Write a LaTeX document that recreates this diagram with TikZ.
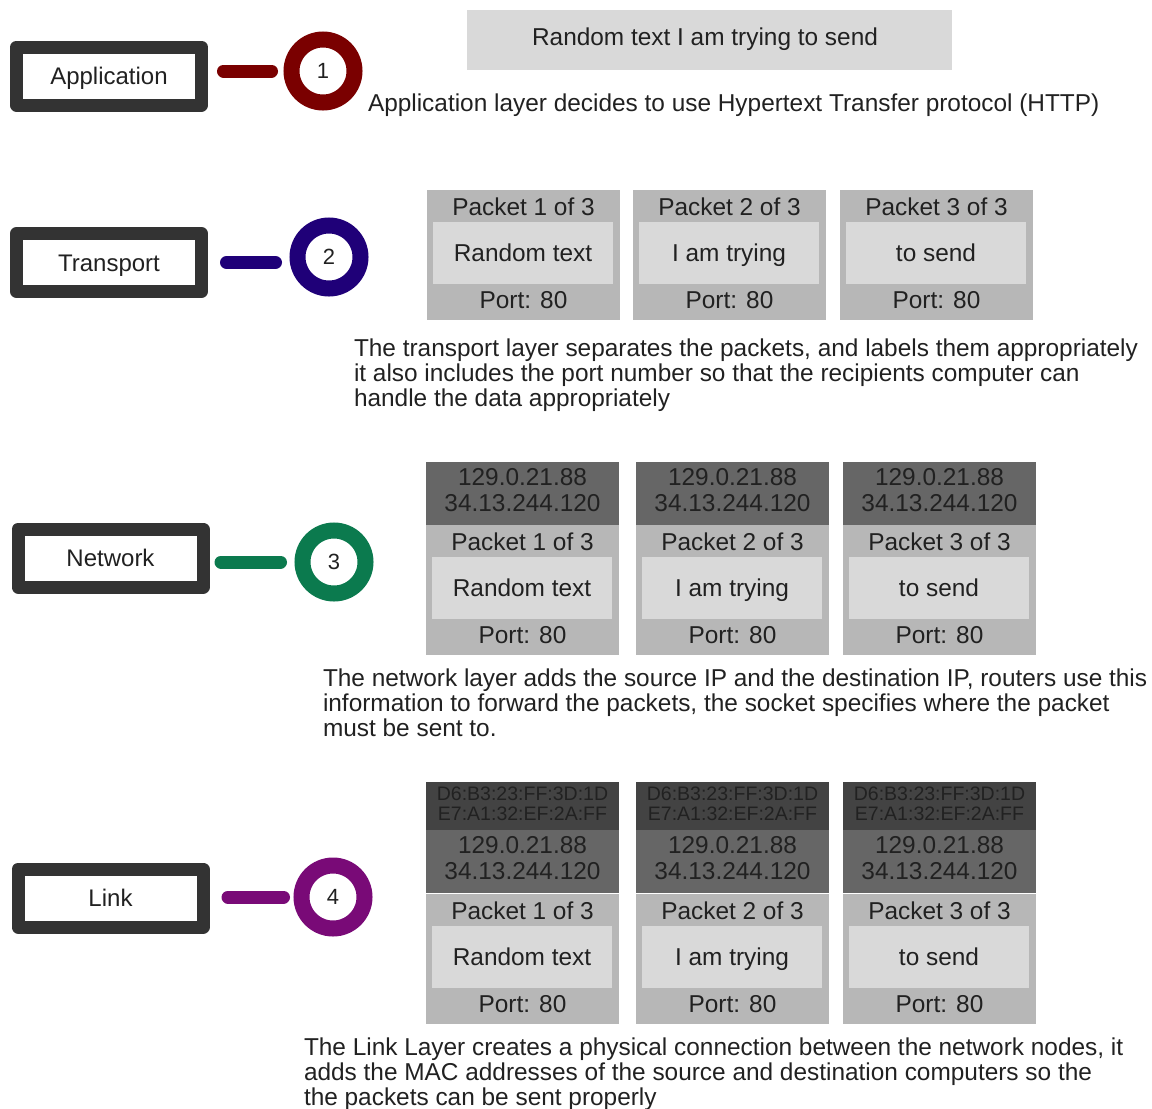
\documentclass[tikz,border=0pt]{standalone}
\usepackage{fontspec}
\setmainfont{Liberation Sans}
\usetikzlibrary{calc}
\definecolor{txtc}{HTML}{212121}
\definecolor{boxc}{HTML}{333333}
\definecolor{cA}{HTML}{7A0000}
\definecolor{cB}{HTML}{1F0078}
\definecolor{cC}{HTML}{0B7A4E}
\definecolor{cD}{HTML}{790A77}
\definecolor{gOut}{HTML}{B7B7B7}
\definecolor{gIn}{HTML}{D9D9D9}
\definecolor{gIP}{HTML}{666666}
\definecolor{gMAC}{HTML}{434343}
\tikzset{
 txt/.style={inner sep=0pt, outer sep=0pt, text height=17.5pt, text depth=0pt, text=txtc, font=\fontsize{24.4}{25}\selectfont},
 mtxt/.style={txt, text height=14pt, font=\fontsize{19.5}{20}\selectfont},
 ltxt/.style={txt, anchor=west},
 layer/.style={draw=boxc, line width=13pt, line join=round, fill=white, minimum width=185pt, minimum height=58pt, inner sep=0pt, text height=17.3pt, text depth=0pt, font=\fontsize{24}{25}\selectfont, text=txtc},
 ring/.style={circle, draw=#1, line width=16pt, fill=white, minimum size=63pt, inner sep=0pt, text height=15.8pt, text depth=0pt, font=\fontsize{22}{24}\selectfont, text=txtc},
 conn/.style={draw=#1, line width=13pt, line cap=round},
 blk/.style={inner sep=0pt, outer sep=0pt, anchor=north west},
}
\newcommand\pktbase[5]{%
 \node[blk, fill=gOut, minimum width=193pt, minimum height=130pt] (#1) at (#2,#3) {};
 \node[txt] (#1h) at ([yshift=-17pt]#1.north) {Packet #4 of 3};
 \node[blk, fill=gIn, minimum width=180pt, minimum height=62pt] (#1i) at ([xshift=6pt,yshift=-32pt]#1.north west) {};
 \node[txt] (#1c) at (#1i.center) {#5};
 \node[txt] (#1p) at ([yshift=-110pt]#1.north) {Port: 80};
}
\newcommand\ipband[3]{%
 \node[blk, fill=gIP, minimum width=193pt, minimum height=63pt] (#1) at (#2,#3) {};
 \node[txt] (#1a) at ([yshift=-15pt]#1.north) {129.0.21.88};
 \node[txt] (#1b) at ([yshift=-41pt]#1.north) {34.13.244.120};
}
\newcommand\macband[3]{%
 \node[blk, fill=gMAC, minimum width=193pt, minimum height=48pt] (#1) at (#2,#3) {};
 \node[mtxt] (#1a) at ([yshift=-11pt]#1.north) {D6:B3:23:FF:3D:1D};
 \node[mtxt] (#1b) at ([yshift=-31pt]#1.north) {E7:A1:32:EF:2A:FF};
}
\begin{document}
\begin{tikzpicture}[x=1pt,y=-1pt]
\useasboundingbox (0,0) rectangle (1152,1109);

% layer boxes
\node[layer] (lApp) at (109,76) {Application};
\node[layer] (lTr) at (109,262.5) {Transport};
\node[layer] (lNet) at (110.5,558) {Network};
\node[layer] (lLink) at (110.5,898) {Link};

% rings
\node[ring=cA] (c1) at (323,71) {1};
\node[ring=cB] (c2) at (329,257) {2};
\node[ring=cC] (c3) at (334,562) {3};
\node[ring=cD] (c4) at (333,897) {4};

% connectors
\draw[conn=cA, shorten <=15.5pt, shorten >=12pt] (lApp.east |- c1.west) -- (c1.west);
\draw[conn=cB, shorten <=18.5pt, shorten >=14pt] (lTr.east) -- (lTr.east -| c2.west);
\draw[conn=cC, shorten <=11.5pt, shorten >=14pt] (lNet.east |- c3.west) -- (c3.west);
\draw[conn=cD, shorten <=18.5pt, shorten >=10pt] (lLink.east |- c4.west) -- (c4.west);

% application
\node[blk, fill=gIn, minimum width=485pt, minimum height=60pt] (msg) at (467,10) {};
\node[txt] (msgt) at (705,37) {Random text I am trying to send};
\node[ltxt] (dA) at (368,103) {Application layer decides to use Hypertext Transfer protocol (HTTP)};

% transport
\pktbase{tA}{427}{190}{1}{Random text}
\pktbase{tB}{633}{190}{2}{I am trying}
\pktbase{tC}{840}{190}{3}{to send}
\node[ltxt] (dT1) at (354,348) {The transport layer separates the packets, and labels them appropriately};
\node[ltxt] (dT2) at (354,373) {it also includes the port number so that the recipients computer can};
\node[ltxt] (dT3) at (354,398) {handle the data appropriately};

% network
\ipband{nAip}{426}{462}
\ipband{nBip}{636}{462}
\ipband{nCip}{843}{462}
\pktbase{nA}{426}{525}{1}{Random text}
\pktbase{nB}{636}{525}{2}{I am trying}
\pktbase{nC}{843}{525}{3}{to send}
\node[ltxt] (dN1) at (323,678) {The network layer adds the source IP and the destination IP, routers use this};
\node[ltxt] (dN2) at (323,703) {information to forward the packets, the socket specifies where the packet};
\node[ltxt] (dN3) at (323,728) {must be sent to.};

% link
\macband{kAm}{426}{782}
\macband{kBm}{636}{782}
\macband{kCm}{843}{782}
\ipband{kAip}{426}{830}
\ipband{kBip}{636}{830}
\ipband{kCip}{843}{830}
\pktbase{kA}{426}{894}{1}{Random text}
\pktbase{kB}{636}{894}{2}{I am trying}
\pktbase{kC}{843}{894}{3}{to send}
\node[ltxt] (dL1) at (304,1047) {The Link Layer creates a physical connection between the network nodes, it};
\node[ltxt] (dL2) at (304,1072) {adds the MAC addresses of the source and destination computers so the};
\node[ltxt] (dL3) at (304,1097) {the packets can be sent properly};
\end{tikzpicture}
\end{document}
